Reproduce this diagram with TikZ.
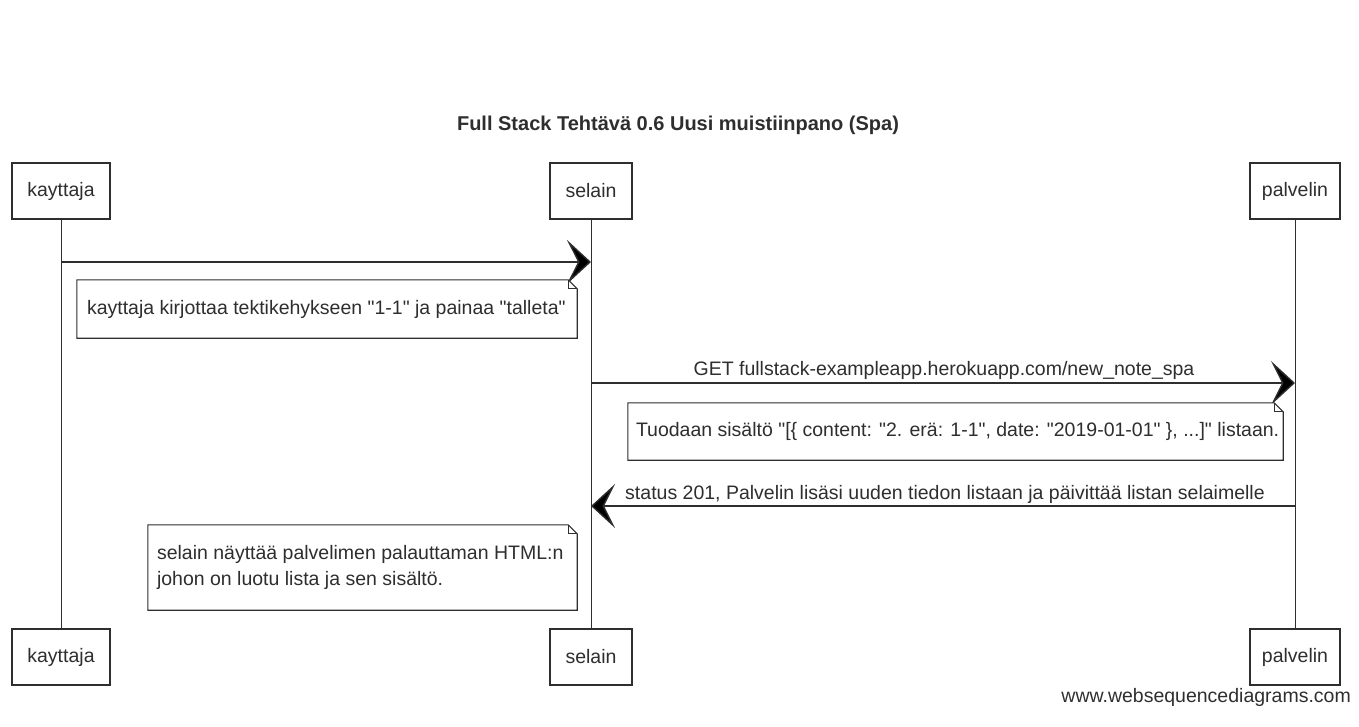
\documentclass[tikz,border=0pt]{standalone}
\usepackage{fontspec}
\setmainfont{Liberation Sans}[Ligatures=TeXOff]
\usetikzlibrary{arrows.meta}
\definecolor{ink}{HTML}{2E2E2E}
\newcommand{\qq}{\symbol{34}}
\tikzset{
  actor/.style={draw=ink, line width=1.1pt, fill=white, text=ink, font=\fontsize{19.5}{22}\selectfont, inner sep=0pt},
  notetext/.style={text=ink, font=\fontsize{19.5}{26}\selectfont, inner sep=0pt, minimum height=#1},
  lifeline/.style={draw=ink, line width=1pt},
  msg/.style={draw=ink, line width=1.4pt, -{Stealth[length=24pt, width=44pt, inset=11pt, fill=black]}},
  lbl/.style={text=ink, font=\fontsize{19.5}{22}\selectfont, inner sep=0pt},
  noteline/.style={draw=ink, line width=1.1pt, fill=white},
}
\newcommand{\dognote}[1]{%
  \draw[noteline] (#1.south west) -- (#1.north west) -- ([xshift=-9pt]#1.north east) -- ([yshift=-9pt]#1.north east) -- (#1.south east) -- cycle;
  \draw[draw=ink, line width=0.8pt] ([xshift=-9pt]#1.north east) -- ([xshift=-9pt,yshift=-9pt]#1.north east) -- ([yshift=-9pt]#1.north east);
}
\begin{document}
\begin{tikzpicture}[x=1pt,y=-1pt]
\useasboundingbox (0,0) rectangle (1359,727);
% title
\node[text=ink, font=\bfseries\fontsize{20}{22}\selectfont] (title) at (678,125) {Full Stack Tehtävä 0.6 Uusi muistiinpano (Spa)};
% actors
\node[actor, minimum width=98pt, minimum height=56pt] (k1) at (61,191) {kayttaja};
\node[actor, minimum width=82pt, minimum height=56pt] (s1) at (591,191) {selain};
\node[actor, minimum width=90pt, minimum height=56pt] (p1) at (1295,191) {palvelin};
\node[actor, minimum width=98pt, minimum height=56pt] (k2) at (61,657) {kayttaja};
\node[actor, minimum width=82pt, minimum height=56pt] (s2) at (591,657) {selain};
\node[actor, minimum width=90pt, minimum height=56pt] (p2) at (1295,657) {palvelin};
% lifelines
\draw[lifeline] (k1) -- (k2);
\draw[lifeline] (s1) -- (s2);
\draw[lifeline] (p1) -- (p2);
% redraw actor boxes above lifelines
\node[actor, minimum width=98pt, minimum height=56pt] at (k1) {kayttaja};
\node[actor, minimum width=82pt, minimum height=56pt] at (s1) {selain};
\node[actor, minimum width=90pt, minimum height=56pt] at (p1) {palvelin};
\node[actor, minimum width=98pt, minimum height=56pt] at (k2) {kayttaja};
\node[actor, minimum width=82pt, minimum height=56pt] at (s2) {selain};
\node[actor, minimum width=90pt, minimum height=56pt] at (p2) {palvelin};
% message y levels
\coordinate (y1) at (0,262);
\coordinate (y2) at (0,383);
\coordinate (y3) at (0,506);
% message 1
\draw[msg] (k1.south |- y1) -- (s1.south |- y1);
% note 1
\node[notetext=58pt, minimum width=500pt] (n1) at (327,309) {};
\dognote{n1}
\node[notetext=20pt, anchor=west] (t1) at ([xshift=10pt]n1.west) {kayttaja kirjottaa tektikehykseen \qq1-1\qq{} ja painaa \qq talleta\qq};
% message 2
\draw[msg] (s1.south |- y2) -- (p1.south |- y2);
\node[lbl] (l2) at (944,370) {GET fullstack-exampleapp.herokuapp.com/new\_note\_spa};
% note 2
\node[notetext=57pt, minimum width=655pt] (n2) at (955.5,431.5) {};
\dognote{n2}
\node[notetext=20pt, anchor=west] (t2) at ([xshift=8pt]n2.west) {Tuodaan sisältö \qq[\{ content: \qq2. erä: 1-1\qq, date: \qq2019-01-01\qq{} \}, ...]\qq{} listaan.};
% message 3
\draw[msg] (p1.south |- y3) -- (s1.south |- y3);
\node[lbl] (l3) at (945,494) {status 201, Palvelin lisäsi uuden tiedon listaan ja päivittää listan selaimelle};
% note 3
\node[notetext=85pt, minimum width=429pt] (n3) at (362.5,567.5) {};
\dognote{n3}
\node[text=ink, font=\fontsize{19.5}{26}\selectfont, inner sep=0pt, align=left, anchor=west] (t3) at ([xshift=9pt]n3.west) {selain näyttää palvelimen palauttaman HTML:n\\johon on luotu lista ja sen sisältö.};
% footer
\node[lbl, anchor=east] (foot) at (1351,697) {www.websequencediagrams.com};
\end{tikzpicture}
\end{document}
